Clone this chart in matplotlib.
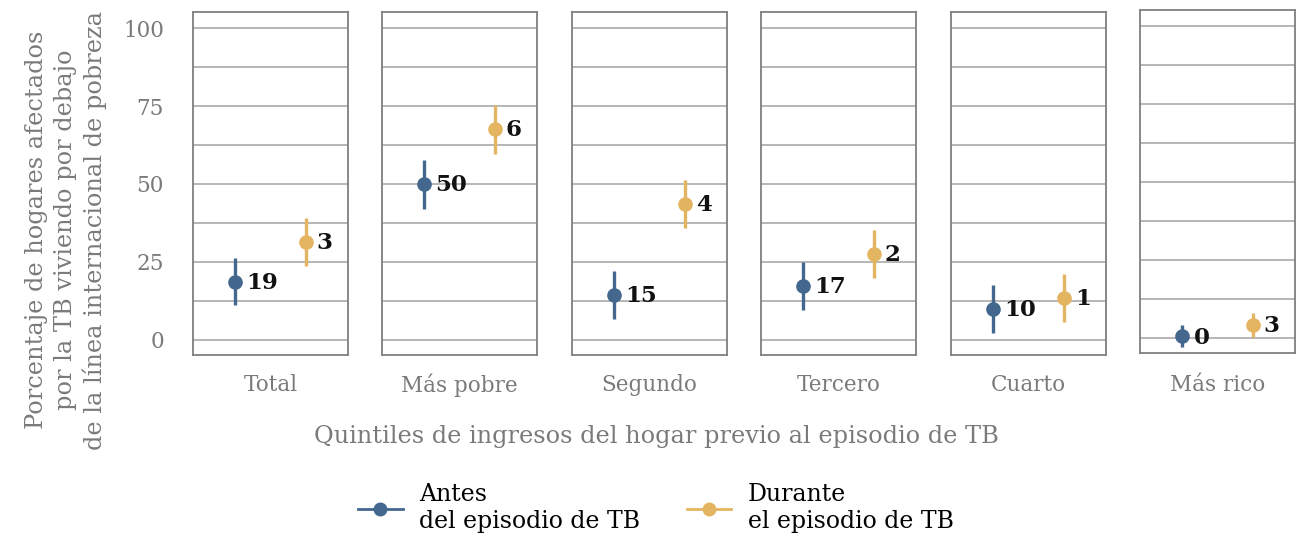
import matplotlib
matplotlib.use("Agg")
import matplotlib.pyplot as plt
from matplotlib.lines import Line2D

# Quintile panels
quintiles = ["Total", "Más pobre", "Segundo", "Tercero", "Cuarto", "Más rico"]

# Share of TB-affected households below the international poverty line (%)
antes_val = [18.6, 50.0, 14.4, 17.3, 9.9, 0.5]
antes_lo = [11.2, 42.0, 6.7, 9.6, 2.2, -3.0]
antes_hi = [26.3, 57.7, 22.1, 25.0, 17.6, 4.2]
antes_lbl = ["19", "50", "15", "17", "10", "0"]

durante_val = [31.4, 67.6, 43.6, 27.6, 13.6, 4.3]
durante_lo = [23.7, 59.6, 35.9, 19.9, 5.8, 0.2]
durante_hi = [39.1, 75.3, 51.3, 35.3, 21.2, 8.0]
durante_lbl = ["3", "6", "4", "2", "1", "3"]

y_ticks = [0, 25, 50, 75, 100]
y_minor = [12.5, 37.5, 62.5, 87.5]
series_names = ["Antes\ndel episodio de TB", "Durante\nel episodio de TB"]

BLUE = "#44678e"
GOLD = "#e4b560"
GREY_TXT = "#7a7a7a"
FRAME = "#7f7f7f"
GRID = "#a9a9a9"
FONT = "DejaVu Serif"

W, H = 1301, 539
fig = plt.figure(figsize=(W / 100, H / 100), dpi=100)

panel_left = [193, 382, 572, 761, 951, 1140]
panel_w = 155
panel_top = [12, 12, 12, 12, 12, 10]
panel_h = 343


def draw_point(ax, x, v, lo, hi, color, label):
    ax.errorbar([x], [v], yerr=[[v - lo], [hi - v]], fmt="o", color=color,
                ecolor=color, elinewidth=2.4, markersize=9.5, capsize=0, zorder=3)
    ax.annotate(label, (x, v), xytext=(8, -1), textcoords="offset points",
                ha="left", va="center", fontsize=16.5, fontweight="bold",
                family=FONT, color="#111111", zorder=4)


for i, q in enumerate(quintiles):
    ax = fig.add_axes([panel_left[i] / W, 1 - (panel_top[i] + panel_h) / H,
                       panel_w / W, panel_h / H])
    ax.set_yticks(y_ticks)
    ax.set_yticks(y_minor, minor=True)
    ax.set_xlim(0.4, 2.6)
    ax.set_ylim(-4.81, 105.13)
    ax.grid(True, axis="y", which="both", color=GRID, linewidth=1.2, zorder=0)
    ax.set_xticks([])
    ax.tick_params(axis="y", which="both", length=0, pad=21,
                   labelsize=15.5, labelcolor=GREY_TXT)
    for lab in ax.get_yticklabels():
        lab.set_family(FONT)
    if i > 0:
        ax.set_yticklabels([])
    for sp in ax.spines.values():
        sp.set_color(FRAME)
        sp.set_linewidth(1.3)
    draw_point(ax, 1, antes_val[i], antes_lo[i], antes_hi[i], BLUE, antes_lbl[i])
    draw_point(ax, 2, durante_val[i], durante_lo[i], durante_hi[i], GOLD, durante_lbl[i])
    fig.text((panel_left[i] + panel_w / 2) / W, 1 - 385 / H, q, ha="center",
             va="center", fontsize=15.5, family=FONT, color=GREY_TXT)

fig.text(656 / W, 1 - 437 / H,
         "Quintiles de ingresos del hogar previo al episodio de TB",
         ha="center", va="center", fontsize=17.3, family=FONT, color=GREY_TXT)
fig.text(66 / W, 1 - 230 / H,
         "Porcentaje de hogares afectados\npor la TB viviendo por debajo\nde la línea internacional de pobreza",
         ha="center", va="center", rotation=90, fontsize=17.3, family=FONT,
         color=GREY_TXT, linespacing=1.32)

handles = [Line2D([], [], color=BLUE, marker="o", markersize=9, linewidth=2),
           Line2D([], [], color=GOLD, marker="o", markersize=9, linewidth=2)]
fig.legend(handles, series_names, loc="center", bbox_to_anchor=(656 / W, 1 - 508 / H),
           ncol=2, frameon=False, handlelength=1.9, columnspacing=1.95,
           prop={"family": FONT, "size": 17}, labelspacing=0.2, handletextpad=0.7)

fig.savefig("out.png", dpi=100)
